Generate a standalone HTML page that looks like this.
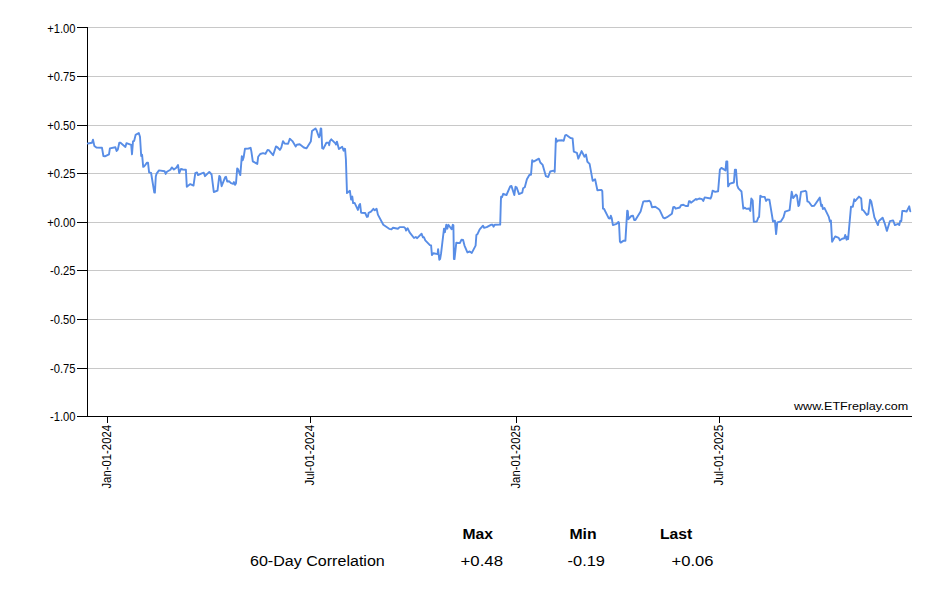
<!DOCTYPE html>
<html><head><meta charset="utf-8"><title>60-Day Correlation</title>
<style>html,body{margin:0;padding:0;background:#fff;}body{width:940px;height:600px;overflow:hidden;}svg{display:block;}text{font-family:"Liberation Sans",sans-serif;fill:#000;}</style></head><body>
<svg width="940" height="600" viewBox="0 0 940 600">
<rect width="940" height="600" fill="#fff"/>
<g shape-rendering="crispEdges" fill="#c8c8c8">
<rect x="88" y="27" width="824" height="1"/>
<rect x="88" y="76" width="824" height="1"/>
<rect x="88" y="125" width="824" height="1"/>
<rect x="88" y="173" width="824" height="1"/>
<rect x="88" y="222" width="824" height="1"/>
<rect x="88" y="270" width="824" height="1"/>
<rect x="88" y="319" width="824" height="1"/>
<rect x="88" y="368" width="824" height="1"/>
</g>
<g shape-rendering="crispEdges" fill="#000">
<rect x="87" y="27" width="1" height="390"/>
<rect x="87" y="416" width="825" height="1"/>
<rect x="77" y="27" width="10" height="1"/>
<rect x="77" y="76" width="10" height="1"/>
<rect x="77" y="125" width="10" height="1"/>
<rect x="77" y="173" width="10" height="1"/>
<rect x="77" y="222" width="10" height="1"/>
<rect x="77" y="270" width="10" height="1"/>
<rect x="77" y="319" width="10" height="1"/>
<rect x="77" y="368" width="10" height="1"/>
<rect x="77" y="416" width="10" height="1"/>
<rect x="107" y="417" width="1" height="6"/>
<rect x="310" y="417" width="1" height="6"/>
<rect x="516" y="417" width="1" height="6"/>
<rect x="719" y="417" width="1" height="6"/>
</g>
<g font-size="11.2" text-anchor="end">
<text transform="translate(75.5,33) scale(1,1.12)">+1.00</text>
<text transform="translate(75.5,81) scale(1,1.12)">+0.75</text>
<text transform="translate(75.5,130) scale(1,1.12)">+0.50</text>
<text transform="translate(75.5,178) scale(1,1.12)">+0.25</text>
<text transform="translate(75.5,227) scale(1,1.12)">+0.00</text>
<text transform="translate(75.5,275) scale(1,1.12)">-0.25</text>
<text transform="translate(75.5,324) scale(1,1.12)">-0.50</text>
<text transform="translate(75.5,373) scale(1,1.12)">-0.75</text>
<text transform="translate(75.5,421) scale(1,1.12)">-1.00</text>
</g>
<g font-size="11.2">
<text transform="translate(110.6,488.6) rotate(-90) scale(1,1.12)" textLength="63.7" lengthAdjust="spacingAndGlyphs">Jan-01-2024</text>
<text transform="translate(313.6,485.6) rotate(-90) scale(1,1.12)" textLength="60.7" lengthAdjust="spacingAndGlyphs">Jul-01-2024</text>
<text transform="translate(519.6,488.6) rotate(-90) scale(1,1.12)" textLength="63.7" lengthAdjust="spacingAndGlyphs">Jan-01-2025</text>
<text transform="translate(722.6,485.6) rotate(-90) scale(1,1.12)" textLength="60.7" lengthAdjust="spacingAndGlyphs">Jul-01-2025</text>
</g>
<polyline fill="none" stroke="#588de6" stroke-width="1.9" stroke-linejoin="round" stroke-linecap="round" points="87.9,143.5 92.0,142.8 93.0,139.6 94.4,146.1 96.4,147.6 102.0,147.8 103.4,156.0 104.9,156.4 109.0,154.3 109.9,148.4 115.4,147.2 116.6,151.0 117.8,149.6 119.3,142.8 120.5,142.8 125.4,146.9 126.5,143.1 131.2,144.9 132.0,154.3 133.0,141.4 134.2,140.8 135.6,134.9 138.8,133.0 140.0,136.7 141.2,156.0 142.1,154.8 143.2,166.9 144.1,166.5 147.0,162.7 148.0,162.7 149.1,172.4 151.1,173.0 154.3,192.6 154.9,192.6 155.8,176.5 156.6,173.6 159.0,170.4 164.6,171.2 165.7,173.9 166.9,171.8 170.4,169.7 171.8,167.4 173.9,169.5 176.3,167.7 178.0,165.0 179.2,173.0 181.0,168.9 182.7,169.5 185.9,169.7 186.8,186.8 190.3,184.1 193.5,185.6 195.3,173.1 197.0,172.4 198.0,175.1 201.7,173.3 203.8,172.7 205.0,176.2 209.3,171.9 211.6,174.5 213.8,192.0 217.5,190.6 219.3,175.9 220.2,176.8 221.6,186.2 225.1,177.4 226.0,176.8 227.2,181.5 229.2,181.3 231.0,183.2 233.1,183.8 233.9,182.1 235.1,184.8 236.0,183.2 237.2,168.4 238.0,169.2 240.3,175.1 241.8,156.3 242.7,160.2 243.6,157.5 245.0,148.7 248.5,148.5 250.6,147.8 251.4,151.6 252.8,161.4 257.3,163.9 258.2,156.7 260.2,154.0 263.1,153.1 265.5,153.8 267.6,149.9 268.8,150.1 273.1,155.2 276.0,146.4 277.2,147.0 279.9,149.9 281.3,147.6 283.0,141.1 284.6,143.5 288.1,143.8 289.8,138.8 292.4,141.1 295.7,146.4 296.8,144.8 299.7,144.3 303.8,147.5 306.4,148.4 310.8,141.6 312.0,131.1 315.5,128.4 316.4,129.9 319.0,137.3 319.9,135.2 320.7,128.4 321.3,128.8 322.2,148.1 323.3,148.7 326.4,142.8 328.7,142.8 329.2,145.2 329.9,141.1 331.3,139.3 335.4,143.4 336.0,144.6 336.9,141.6 338.9,149.0 342.2,146.7 343.6,150.7 344.2,148.7 345.1,149.0 345.9,159.2 346.4,175.0 347.0,193.1 349.9,190.8 351.1,199.6 352.3,196.6 353.1,203.1 354.6,202.9 357.9,209.9 359.3,204.8 360.1,204.0 361.1,212.7 365.2,213.0 366.9,216.9 367.9,216.5 368.6,212.9 371.0,211.7 373.4,208.8 374.8,210.3 376.6,208.8 377.9,214.6 383.3,224.7 389.2,228.8 391.5,229.4 393.0,227.7 397.9,228.8 399.7,227.1 403.8,227.1 405.3,228.2 406.1,230.6 407.6,228.2 409.6,232.3 414.0,238.0 415.8,237.0 417.2,238.2 421.6,233.7 422.9,237.4 423.9,237.2 425.3,240.4 429.9,245.1 431.1,245.4 431.9,255.0 433.5,253.2 437.6,254.1 438.1,249.2 439.3,259.7 440.1,259.1 441.1,253.2 444.0,228.7 444.9,232.2 446.3,224.8 447.3,228.7 448.4,224.8 451.6,229.3 452.8,224.8 453.4,225.2 453.9,259.1 454.5,259.1 456.3,242.7 459.8,243.1 461.5,239.8 463.1,240.0 464.5,245.6 467.4,252.4 469.7,251.5 471.8,252.9 475.6,245.6 476.4,234.9 477.6,233.9 479.7,229.3 483.0,225.7 484.1,227.9 486.7,227.2 491.4,224.6 492.6,224.8 493.5,226.7 494.7,224.8 500.2,224.6 500.9,200.0 501.1,196.7 502.0,197.3 503.2,193.8 506.5,195.0 510.2,186.4 511.4,185.9 514.3,195.0 515.5,186.8 516.6,187.3 519.0,194.1 522.3,192.6 523.1,188.3 524.8,187.3 526.9,179.2 529.5,174.7 531.0,174.7 532.2,160.2 533.6,161.6 538.9,158.7 540.3,162.5 542.7,164.9 545.9,176.2 548.2,177.0 550.2,171.5 553.5,170.7 554.7,171.9 555.9,138.4 557.0,141.7 558.2,140.5 562.3,140.3 563.7,140.8 565.2,135.3 566.4,134.9 570.5,138.0 572.6,138.4 573.8,151.7 576.9,152.8 578.3,158.7 581.6,151.1 584.5,156.7 586.0,154.6 587.4,161.8 589.6,163.9 592.7,180.9 595.1,179.2 597.4,190.3 601.4,189.9 602.3,191.1 603.0,208.7 604.1,209.0 608.8,218.4 610.0,218.6 610.8,215.7 611.7,218.0 612.9,225.1 616.6,223.9 618.4,221.9 619.0,222.7 619.9,241.4 620.7,242.6 623.7,240.6 625.4,240.9 627.2,210.7 627.8,211.0 628.4,219.2 631.3,216.0 633.0,215.7 634.2,220.0 635.4,220.0 640.6,211.6 643.3,201.6 644.7,201.1 647.1,201.3 649.4,200.8 650.6,202.2 652.0,207.2 655.3,206.7 658.2,208.7 659.7,210.2 663.2,217.7 664.6,218.4 667.0,217.2 671.9,213.7 673.2,207.2 674.3,206.9 675.7,208.7 679.8,207.5 681.0,205.2 683.4,204.8 685.7,206.0 688.0,206.0 689.0,201.1 689.8,201.1 691.0,202.8 695.9,199.0 696.8,199.7 699.2,198.5 702.1,199.2 703.3,200.9 704.7,197.4 710.5,198.5 711.4,196.5 712.6,190.7 715.2,191.9 718.1,191.3 719.9,169.6 721.4,167.9 725.5,170.4 726.3,161.4 727.3,161.4 728.1,186.4 729.8,183.7 733.9,182.5 734.9,169.6 736.0,169.6 737.2,185.4 738.4,188.4 741.5,191.5 743.3,208.6 744.9,207.6 746.3,208.9 749.1,208.5 750.3,210.9 751.3,198.5 752.7,200.6 753.8,221.7 756.8,221.5 758.3,217.6 759.1,217.0 760.3,195.7 762.0,196.9 764.7,196.9 766.1,200.9 767.3,199.5 769.4,199.6 773.0,221.5 774.9,220.7 776.1,234.1 777.3,222.4 780.8,221.5 783.5,217.2 785.1,211.6 789.6,210.2 791.7,191.7 793.1,198.1 796.0,194.6 796.9,195.4 798.4,206.0 799.2,205.2 801.0,191.9 805.4,190.8 806.3,191.7 807.4,201.3 808.9,202.0 811.8,206.0 814.2,205.7 819.8,197.6 821.2,206.0 822.0,204.8 822.9,209.0 824.4,207.9 828.8,216.9 829.9,221.5 830.9,220.4 832.1,241.8 835.2,236.4 838.7,237.9 839.9,240.3 842.2,238.7 844.3,238.3 845.2,235.0 846.6,239.7 847.3,236.8 848.1,239.1 851.0,206.7 852.8,206.9 854.2,199.3 855.1,201.1 859.0,196.6 861.2,198.5 862.1,209.8 863.3,210.2 866.8,214.9 868.3,213.9 870.1,199.7 871.3,201.6 874.4,217.4 877.9,225.1 878.9,221.0 882.6,217.7 884.7,223.3 886.9,230.9 889.9,221.2 893.1,220.4 894.9,225.1 898.2,223.9 899.3,225.1 900.2,221.0 901.3,221.2 902.3,211.0 904.3,211.0 906.6,211.6 909.2,206.3 910.3,211.4"/>
<text x="794" y="409.6" font-size="11.3" textLength="114.3" lengthAdjust="spacingAndGlyphs">www.ETFreplay.com</text>
<g font-size="14">
<text x="462.4" y="539" font-weight="bold" textLength="30.5" lengthAdjust="spacingAndGlyphs">Max</text>
<text x="569.4" y="539" font-weight="bold" textLength="27.2" lengthAdjust="spacingAndGlyphs">Min</text>
<text x="659.95" y="539" font-weight="bold" textLength="32.3" lengthAdjust="spacingAndGlyphs">Last</text>
<text x="250" y="565.7" textLength="134.8" lengthAdjust="spacingAndGlyphs">60-Day Correlation</text>
<text x="460.5" y="565.7" textLength="42.5" lengthAdjust="spacingAndGlyphs">+0.48</text>
<text x="567.6" y="565.7" textLength="37.3" lengthAdjust="spacingAndGlyphs">-0.19</text>
<text x="671.6" y="565.7" textLength="41.9" lengthAdjust="spacingAndGlyphs">+0.06</text>
</g>
</svg></body></html>
